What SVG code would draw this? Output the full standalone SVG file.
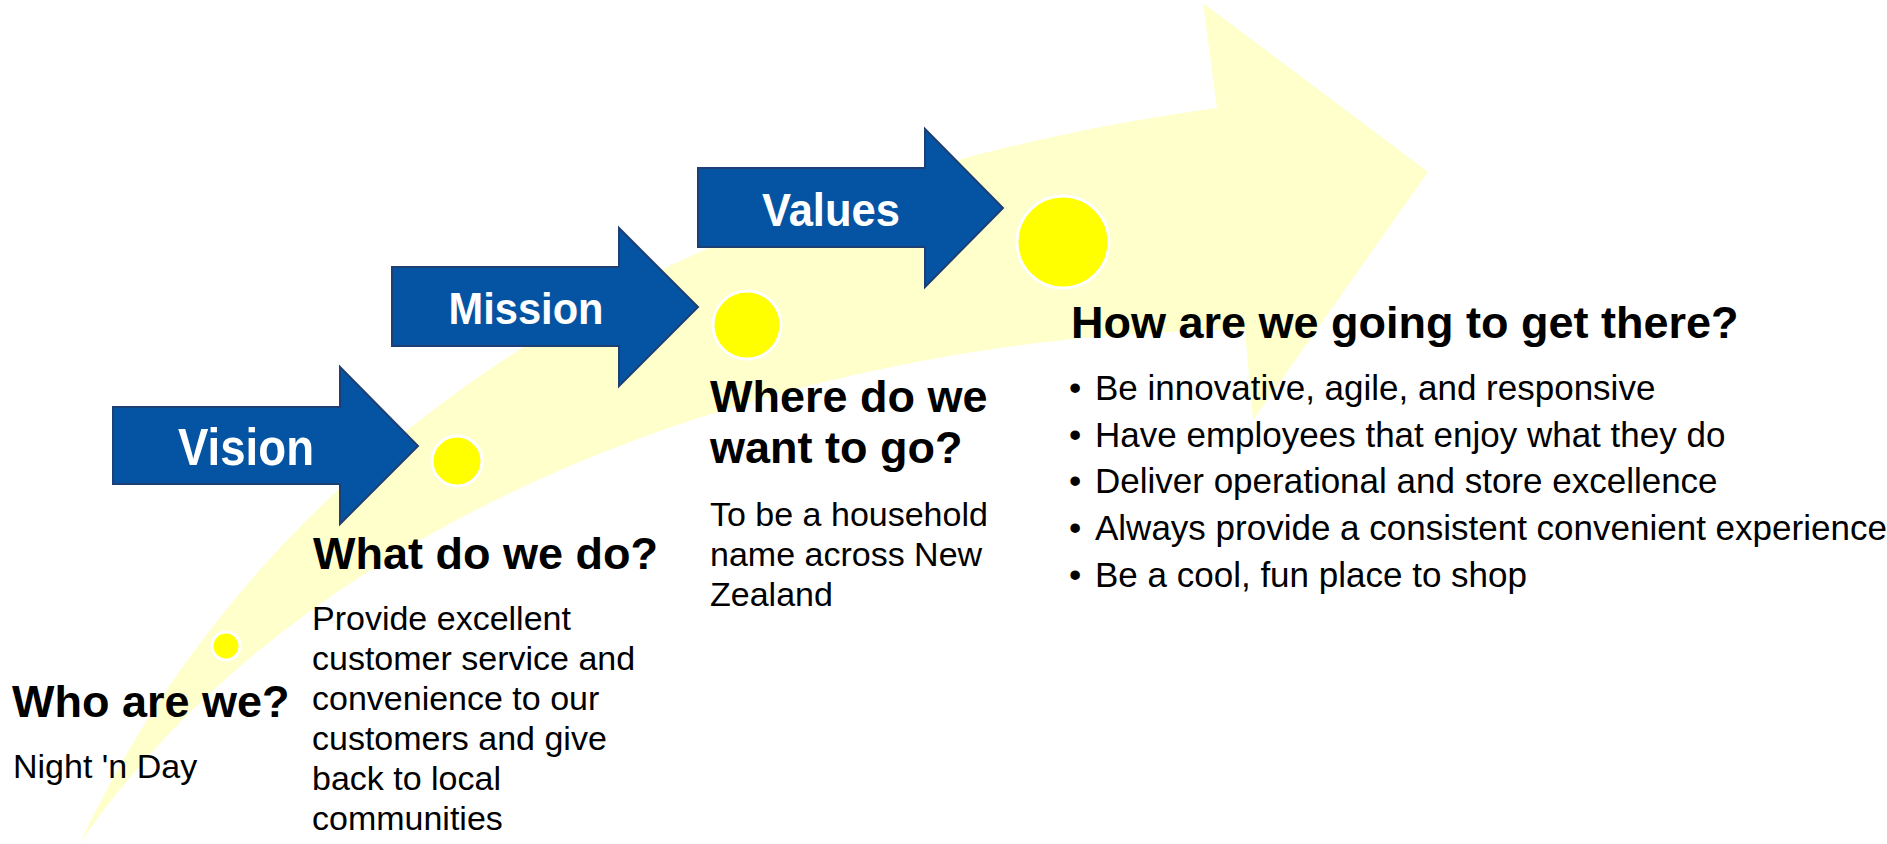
<svg xmlns="http://www.w3.org/2000/svg" width="1887" height="844" viewBox="0 0 1887 844">
<style>
.bg{fill:#FFFFCC;stroke:none}
.arrow{fill:#0454A3;stroke:#1E3F74;stroke-width:2;stroke-linejoin:miter}
.lbl{font-family:"Liberation Sans",Arial,sans-serif;font-weight:bold;fill:#FFFFFF;text-anchor:middle}
.dot{fill:#FFFF00;stroke:#FFFFFF;stroke-width:3}
.h{font-family:"Liberation Sans",Arial,sans-serif;font-weight:bold;font-size:45px;fill:#000000}
.b{font-family:"Liberation Sans",Arial,sans-serif;font-size:34px;fill:#000000}
.u{font-family:"Liberation Sans",Arial,sans-serif;font-size:35px;fill:#000000}
</style>
<rect x="0" y="0" width="1887" height="844" fill="#FFFFFF"/>
<g id="swoosh">
<path class="bg" d="M80,843 C250,480 620,190 1217,108 L1203,3 L1428,172 L1253,420 L1245,330 C850,330 330,480 80,843 Z"/>
</g>
<g id="connectors">
</g>
<g id="dot-who"><circle class="dot" cx="226" cy="646" r="14"/></g>
<g id="vision">
<polygon class="arrow" points="113,407 340,407 340,367 418,446 340,524 340,484 113,484"/>
<text class="lbl" x="246" y="465" font-size="52" textLength="136" lengthAdjust="spacingAndGlyphs">Vision</text>
</g>
<g id="dot-vision"><circle class="dot" cx="457" cy="461" r="25"/></g>
<g id="mission">
<polygon class="arrow" points="392,267 619,267 619,228 698,307 619,386 619,346 392,346"/>
<text class="lbl" x="526" y="324" font-size="44" textLength="155" lengthAdjust="spacingAndGlyphs">Mission</text>
</g>
<g id="dot-mission"><circle class="dot" cx="747" cy="325" r="34"/></g>
<g id="values">
<polygon class="arrow" points="698,168 925,168 925,129 1003,208 925,287 925,247 698,247"/>
<text class="lbl" x="831" y="226" font-size="46" textLength="138" lengthAdjust="spacingAndGlyphs">Values</text>
</g>
<g id="dot-values"><circle class="dot" cx="1063" cy="242" r="46"/></g>
<g id="who">
<text class="h" x="12" y="717">Who are we?</text>
<text class="b" x="13" y="778">Night 'n Day</text>
</g>
<g id="what">
<text class="h" x="313" y="569">What do we do?</text>
<text class="b" x="312" y="630">Provide excellent</text>
<text class="b" x="312" y="670">customer service and</text>
<text class="b" x="312" y="710">convenience to our</text>
<text class="b" x="312" y="750">customers and give</text>
<text class="b" x="312" y="790">back to local</text>
<text class="b" x="312" y="830">communities</text>
</g>
<g id="where">
<text class="h" x="710" y="412">Where do we</text>
<text class="h" x="710" y="463">want to go?</text>
<text class="b" x="710" y="526">To be a household</text>
<text class="b" x="710" y="566">name across New</text>
<text class="b" x="710" y="606">Zealand</text>
</g>
<g id="how">
<text class="h" x="1071" y="338">How are we going to get there?</text>
<text class="u" y="400"><tspan x="1069">•</tspan><tspan x="1095">Be innovative, agile, and responsive</tspan></text>
<text class="u" y="447"><tspan x="1069">•</tspan><tspan x="1095">Have employees that enjoy what they do</tspan></text>
<text class="u" y="493"><tspan x="1069">•</tspan><tspan x="1095">Deliver operational and store excellence</tspan></text>
<text class="u" y="540"><tspan x="1069">•</tspan><tspan x="1095">Always provide a consistent convenient experience</tspan></text>
<text class="u" y="587"><tspan x="1069">•</tspan><tspan x="1095">Be a cool, fun place to shop</tspan></text>
</g>
</svg>
